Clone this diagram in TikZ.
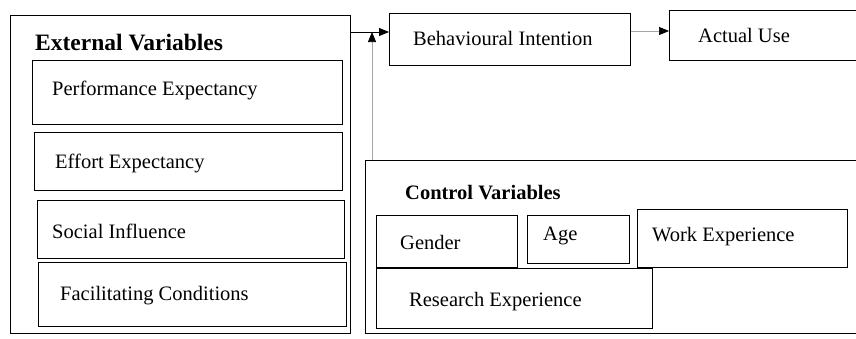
\documentclass[tikz,border=0pt]{standalone}
\usepackage{fontspec}
\setmainfont{Liberation Serif}
\usetikzlibrary{arrows.meta}
\begin{document}
\begin{tikzpicture}[x=1pt,y=-1pt,
  box/.style={draw=black, line width=1.4pt, rectangle, inner sep=0pt, anchor=north west},
  txt/.style={inner sep=0pt, anchor=west, font=\fontsize{20.5}{24}\selectfont},
  ttl/.style={inner sep=0pt, anchor=west, font=\fontsize{20.5}{24}\selectfont\bfseries},
  arr/.style={line width=0.9pt, -{Triangle[length=10pt,width=8pt]}},
  dotarr/.style={draw=gray!70, line width=0.7pt, -{Triangle[length=10pt,width=8pt,fill=black,color=black]}}
]
\useasboundingbox[fill=white] (0,0) rectangle (856,338);
% external variables
\node[box, minimum width=340pt, minimum height=318pt] (ext) at (10,15) {};
\node[ttl, font=\fontsize{23.5}{27}\selectfont\bfseries] (extt) at (35,43) {External Variables};
\node[box, minimum width=310pt, minimum height=64pt] (pe) at (32,60) {};
\node[txt] (pet) at (52,90) {Performance Expectancy};
\node[box, minimum width=308pt, minimum height=58pt] (ee) at (34,132) {};
\node[txt] (eet) at (55,163) {Effort Expectancy};
\node[box, minimum width=307pt, minimum height=58pt] (si) at (37,200) {};
\node[txt] (sit) at (52,231) {Social Influence};
\node[box, minimum width=308pt, minimum height=64pt] (fc) at (38,262) {};
\node[txt] (fct) at (60,296) {Facilitating Conditions};
% outcome
\node[box, minimum width=241pt, minimum height=52pt] (bi) at (389,13) {};
\node[txt] (bit) at (413,38) {Behavioural Intention};
\node[box, minimum width=192pt, minimum height=50pt] (au) at (669,10) {};
\node[txt] (aut) at (698,35) {Actual Use};
% control variables
\node[box, minimum width=496pt, minimum height=173pt] (ctrl) at (365,160) {};
\node[ttl] (ctrlt) at (405,193) {Control Variables};
\node[box, minimum width=141pt, minimum height=52pt] (ge) at (376,215) {};
\node[txt] (get) at (400,242) {Gender};
\node[box, minimum width=102pt, minimum height=48pt] (ag) at (527,215) {};
\node[txt] (agt) at (543,236) {Age};
\node[box, minimum width=210pt, minimum height=58pt] (we) at (637,209) {};
\node[txt] (wet) at (652,237) {Work Experience};
\node[box, minimum width=276pt, minimum height=60pt] (re) at (376,268) {};
\node[txt] (ret) at (409,302) {Research Experience};
% connectors
\coordinate (j) at (372,33);
\draw[arr] (ext.east |- 0,32) -- (bi.west |- 0,32);
\draw[dotarr] (ctrl.north -| j) -- ([yshift=1pt]j);
\draw[dotarr] (bi.east |- 0,31) -- (au.west |- 0,31);
\end{tikzpicture}
\end{document}
